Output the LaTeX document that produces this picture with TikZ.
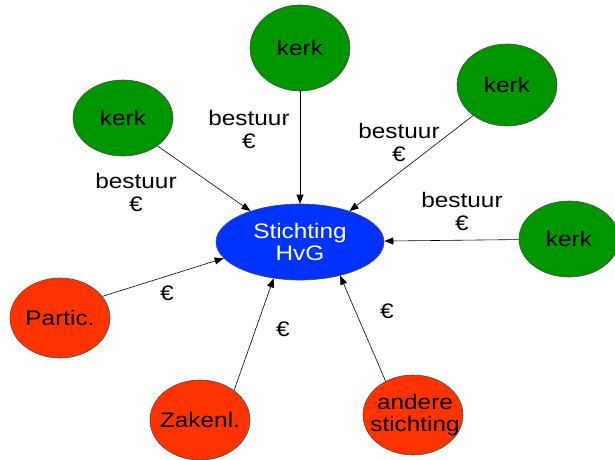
\documentclass[tikz,border=0pt]{standalone}
\usepackage{fontspec}
\setmainfont{Liberation Sans}[FakeStretch=1.16]
\usetikzlibrary{shapes.geometric,arrows.meta}
\definecolor{kgreen}{RGB}{0,150,0}
\definecolor{kred}{RGB}{255,51,0}
\definecolor{kblue}{RGB}{0,51,255}
\begin{document}
\begin{tikzpicture}[x=1pt,y=-1pt,
  every node/.style={font=\fontsize{21}{22}\selectfont, align=center, inner sep=0pt},
  blob/.style={ellipse, draw=black!70, line width=0.6pt, minimum width=100pt},
  kerkblob/.style={blob, fill=kgreen},
  redblob/.style={blob, fill=kred},
  lbl/.style={font=\fontsize{21}{23}\selectfont},
  conn/.style={-{Triangle[length=9pt,width=7pt]}, line width=0.6pt, black}]
\useasboundingbox (0,0) rectangle (615,459);
\node[ellipse, draw=black!70, line width=0.6pt, fill=kblue, text=white,
      minimum width=168pt, minimum height=76pt] (hvg) at (300,242) {Stichting\\HvG};
\node[kerkblob, minimum height=86pt, label=center:kerk] (k1) at (300,48) {};
\node[kerkblob, minimum height=76pt, label=center:kerk] (k2) at (123,118) {};
\node[kerkblob, minimum height=82pt, label=center:kerk] (k3) at (507,85) {};
\node[kerkblob, minimum height=76pt, label=center:kerk] (k4) at (569,239) {};
\node[redblob, minimum height=80pt, label=center:Partic.] (p) at (60,318) {};
\node[redblob, minimum height=80pt, label=center:Zakenl.] (z) at (200,420) {};
\node[redblob, minimum height=80pt, label={[xshift=2pt]center:andere\\stichting}] (a) at (413,415) {};
\node[lbl] (l1) at (249,129) {bestuur\\€};
\node[lbl] (l2) at (136,192) {bestuur\\€};
\node[lbl] (l3) at (399,142) {bestuur\\€};
\node[lbl] (l4) at (462,211) {bestuur\\€};
\node[lbl] (e1) at (167,293) {€};
\node[lbl] (e2) at (283,329) {€};
\node[lbl] (e3) at (387,311) {€};
\draw[conn] (k1) -- (hvg);
\draw[conn] (k2.321) -- (hvg.148);
\draw[conn] (k3.222) -- (hvg.32);
\draw[conn] (k4) -- (hvg);
\draw[conn] (p.27) -- (hvg.192);
\draw[conn] (z.41) -- (hvg.234);
\draw[conn] (a.129) -- (hvg.320);
\end{tikzpicture}
\end{document}
